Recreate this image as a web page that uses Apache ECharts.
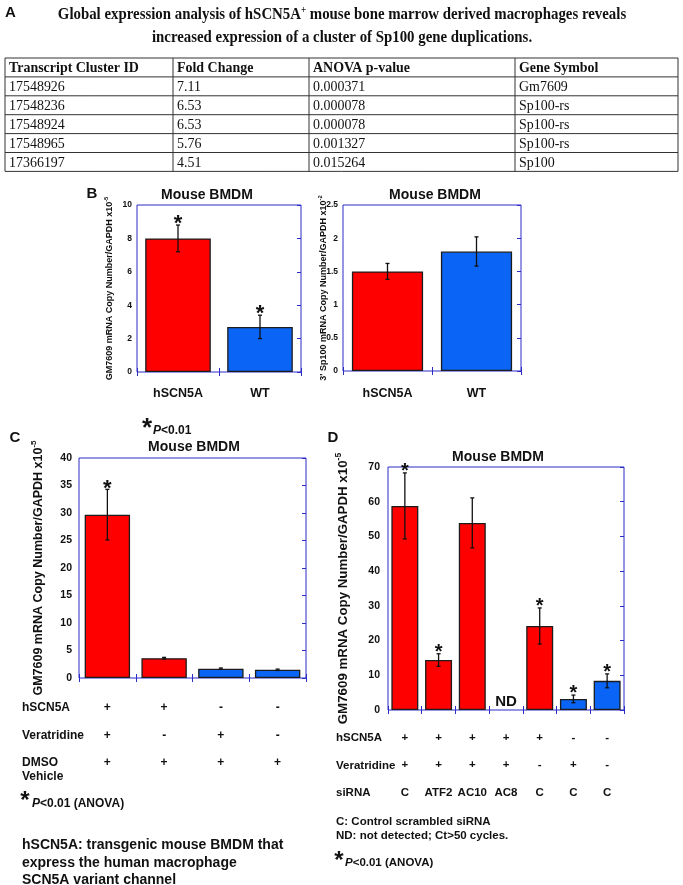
<!DOCTYPE html>
<html>
<head>
<meta charset="utf-8">
<script src="https://cdn.jsdelivr.net/npm/echarts@6/dist/echarts.min.js"></script>
<style>
html, body { margin: 0; padding: 0; background: #fff; }
#main { width: 683px; height: 885px; }
</style>
</head>
<body>
<div id="main"></div>
<script>
// ---- panel A table ----
var tableHeader = ['Transcript Cluster ID', 'Fold Change', 'ANOVA p-value', 'Gene Symbol'];
var clusterIds = ['17548926', '17548236', '17548924', '17548965', '17366197'];
var foldChanges = ['7.11', '6.53', '6.53', '5.76', '4.51'];
var pValues = ['0.000371', '0.000078', '0.000078', '0.001327', '0.015264'];
var geneSymbols = ['Gm7609', 'Sp100-rs', 'Sp100-rs', 'Sp100-rs', 'Sp100'];

// ---- panel B ----
var bCategories = ['hSCN5A', 'WT'];
var bGenotype = ['+', '-'];
var bGmValues = [8.0, 2.7];
var bGmErrors = [0.8, 0.7];
var bGmStars = [true, true];
var bSpValues = [1.5, 1.8];
var bSpErrors = [0.12, 0.22];
var bSpStars = [false, false];

// ---- panel C ----
var cHscn5a = ['+', '+', '-', '-'];
var cVeratridine = ['+', '-', '+', '-'];
var cDmso = ['+', '+', '+', '+'];
var cValues = [29.7, 3.6, 1.7, 1.5];
var cErrors = [4.6, 0.15, 0.12, 0.12];
var cStars = [true, false, false, false];

// ---- panel D ----
var dHscn5a = ['+', '+', '+', '+', '+', '-', '-'];
var dVeratridine = ['+', '+', '+', '+', '-', '+', '-'];
var dSirna = ['C', 'ATF2', 'AC10', 'AC8', 'C', 'C', 'C'];
var dValues = [58.8, 14.4, 53.9, 0, 24.2, 3.2, 8.4];
var dErrors = [9.5, 1.8, 7.2, 0, 5.2, 1.1, 2.0];
var dStars = [true, true, false, false, true, true, true];
var dNotes = ['', '', '', 'ND', '', '', ''];

var BOX = '#2b2bc6';
var RED = '#ff0000';
var BLUE = '#0a64f5';
var EDGE = '#1c1c1c';
var INK = '#111';
var SANS = '"Liberation Sans", Arial, sans-serif';
var SERIF = '"Liberation Serif", "Times New Roman", serif';

var chart = echarts.init(document.getElementById('main'));
var graphics = [];

function txt(x, y, text, size, opt) {
    opt = opt || {};
    graphics.push({
        type: 'text', x: x, y: y, silent: true, scaleX: opt.sx || 1,
        style: {
            text: text, fill: opt.fill || INK,
            fontFamily: opt.family || SANS, fontSize: size,
            fontWeight: opt.weight || 'bold', fontStyle: opt.italic ? 'italic' : 'normal',
            align: opt.align || 'left', verticalAlign: opt.valign || 'middle',
            rich: opt.rich
        }
    });
}
function line(x1, y1, x2, y2, color, w) {
    graphics.push({
        type: 'line', silent: true,
        shape: { x1: x1, y1: y1, x2: x2, y2: y2 },
        style: { stroke: color, lineWidth: w }
    });
}
function star(x, cy, size) {
    txt(x, cy + size * 0.28, '*', size, { align: 'center' });
}
function pNote(x, y, size, tail) {
    txt(x, y, '{i|P}' + tail, size, {
        rich: { i: { fontFamily: SANS, fontSize: size, fontWeight: 'bold', fontStyle: 'italic', fill: INK } }
    });
}

// panel A: title + table (the serif text in the figure is tall and narrow)
txt(5, 13, 'A', 15);
txt(342, 15, 'Global expression analysis of hSCN5A{sup|+} mouse bone marrow derived macrophages reveals', 16.5, {
    family: SERIF, align: 'center', sx: 0.9,
    rich: { sup: { fontFamily: SERIF, fontSize: 10, fontWeight: 'bold', fill: INK, verticalAlign: 'top', padding: [0, 0, 9, 0] } }
});
txt(342, 38, 'increased expression of a cluster of Sp100 gene duplications.', 16.5, { family: SERIF, align: 'center', sx: 0.9 });

var colX = [5, 173, 309, 515, 678];
var tableTop = 58, rowH = 18.9;
var columns = [clusterIds, foldChanges, pValues, geneSymbols];
for (var r = 0; r <= 6; r++) {
    line(colX[0], tableTop + r * rowH, colX[4], tableTop + r * rowH, '#333', 1);
}
colX.forEach(function (x) { line(x, tableTop, x, tableTop + 6 * rowH, '#333', 1); });
tableHeader.forEach(function (h, c) {
    txt(colX[c] + 4, tableTop + rowH / 2 + 1, h, 15.5, { family: SERIF, sx: 0.9 });
});
columns.forEach(function (col, c) {
    col.forEach(function (v, r) {
        txt(colX[c] + 4, tableTop + (r + 1.5) * rowH + 1, v, 15.5, { family: SERIF, weight: 'normal', sx: 0.9 });
    });
});

// panel letters, titles and notes
txt(92, 194, 'B', 15, { align: 'center' });
txt(207, 195, 'Mouse BMDM', 14, { align: 'center' });
txt(435, 195, 'Mouse BMDM', 14, { align: 'center' });

txt(15, 438, 'C', 15, { align: 'center' });
star(147, 422, 26);
pNote(153, 431, 12, '<0.01');
txt(194, 447, 'Mouse BMDM', 14, { align: 'center' });

txt(333, 438, 'D', 15, { align: 'center' });
txt(498, 457, 'Mouse BMDM', 14, { align: 'center' });

// row labels for the condition tables
txt(22, 708, 'hSCN5A', 12);
txt(22, 736, 'Veratridine', 12);
txt(22, 763, 'DMSO', 12);
txt(22, 777, 'Vehicle', 12);
star(25, 795, 24);
pNote(32, 804, 12, '<0.01 (ANOVA)');
txt(22, 845, 'hSCN5A: transgenic mouse BMDM that', 14);
txt(22, 863, 'express the human macrophage', 14);
txt(22, 880, 'SCN5A variant channel', 14);

txt(336, 738, 'hSCN5A', 11.5);
txt(336, 766, 'Veratridine', 11.5);
txt(336, 793, 'siRNA', 11.5);
txt(336, 822, 'C: Control scrambled siRNA', 11.5);
txt(336, 836, 'ND: not detected; Ct>50 cycles.', 11.5);
star(339, 855, 24);
pNote(345, 863, 11.5, '<0.01 (ANOVA)');

var panels = [
    {
        grid: { left: 137, top: 205, width: 164, height: 167 },
        cats: bCategories, geno: bGenotype, values: bGmValues, errors: bGmErrors, stars: bGmStars,
        max: 10, interval: 2, tickSize: 8.5, tickMargin: 5,
        yName: ['GM7609 mRNA Copy Number/GAPDH x10', '-5'], nameSize: 9, nameGap: 21,
        starSize: 22, labelSize: 12.5, labelMargin: 15, lineHeight: 14,
        labelFn: function (v) { return v; }
    },
    {
        grid: { left: 343, top: 205, width: 178, height: 166 },
        cats: bCategories, geno: bGenotype, values: bSpValues, errors: bSpErrors, stars: bSpStars,
        max: 2.5, interval: 0.5, tickSize: 8.5, tickMargin: 5,
        yName: ["3' Sp100 mRNA Copy Number/GAPDH x10", '-2'], nameSize: 9, nameGap: 13,
        starSize: 22, labelSize: 12.5, labelMargin: 16, lineHeight: 14,
        labelFn: function (v) { return v; }
    },
    {
        grid: { left: 79, top: 458, width: 227, height: 220 },
        cats: ['0', '1', '2', '3'], geno: cHscn5a, values: cValues, errors: cErrors, stars: cStars,
        max: 40, interval: 5, tickSize: 10.5, tickMargin: 7,
        yName: ['GM7609 mRNA Copy Number/GAPDH x10', '-5'], nameSize: 12.5, nameGap: 32,
        starSize: 22, labelSize: 12, labelMargin: 16, lineHeight: 27.5,
        labelFn: function (v, i) { return cHscn5a[i] + '\n' + cVeratridine[i] + '\n' + cDmso[i]; }
    },
    {
        grid: { left: 388, top: 467, width: 236, height: 243 },
        cats: ['0', '1', '2', '3', '4', '5', '6'], geno: dHscn5a, values: dValues, errors: dErrors, stars: dStars,
        notes: dNotes,
        max: 70, interval: 10, tickSize: 10.5, tickMargin: 8,
        yName: ['GM7609 mRNA Copy Number/GAPDH x10', '-5'], nameSize: 13.3, nameGap: 35,
        starSize: 20, labelSize: 11.5, labelMargin: 14, lineHeight: 27.5,
        labelFn: function (v, i) { return dHscn5a[i] + '\n' + dVeratridine[i] + '\n' + dSirna[i]; }
    }
];

var grids = [], xAxes = [], yAxes = [], series = [];
panels.forEach(function (p, k) {
    grids.push(Object.assign({ show: true, borderColor: BOX, borderWidth: 1, backgroundColor: 'transparent' }, p.grid));
    var tick = { show: true, inside: true, length: 4, lineStyle: { color: BOX, width: 1 } };
    xAxes.push({
        type: 'category', gridIndex: k, data: p.cats, position: 'bottom',
        axisLine: { show: false }, axisTick: tick,
        axisLabel: {
            interval: 0, formatter: p.labelFn, fontFamily: SANS, fontWeight: 'bold',
            fontSize: p.labelSize, lineHeight: p.lineHeight, color: INK, margin: p.labelMargin
        }
    });
    xAxes.push({
        type: 'category', gridIndex: k, data: p.cats, position: 'top',
        axisLine: { show: false }, axisTick: tick, axisLabel: { show: false }
    });
    yAxes.push({
        type: 'value', gridIndex: k, min: 0, max: p.max, interval: p.interval, position: 'left',
        axisLine: { show: false }, axisTick: { show: false }, splitLine: { show: false },
        axisLabel: { fontFamily: SANS, fontWeight: 'bold', fontSize: p.tickSize, color: INK, margin: p.tickMargin },
        name: '{t|' + p.yName[0] + '}{s|' + p.yName[1] + '}',
        nameLocation: 'middle', nameRotate: 90, nameGap: p.nameGap, nameMoveOverlap: false,
        nameTextStyle: {
            rich: {
                t: { fontFamily: SANS, fontWeight: 'bold', fontSize: p.nameSize, color: INK, lineHeight: p.nameSize * 1.4 },
                s: { fontFamily: SANS, fontWeight: 'bold', fontSize: p.nameSize * 0.65, color: INK, verticalAlign: 'top' }
            }
        }
    });
    yAxes.push({
        type: 'value', gridIndex: k, min: 0, max: p.max, interval: p.interval, position: 'right',
        axisLine: { show: false }, axisTick: tick, splitLine: { show: false }, axisLabel: { show: false }
    });
    series.push({
        type: 'bar', xAxisIndex: 2 * k, yAxisIndex: 2 * k, barCategoryGap: '20%', silent: true,
        data: p.values.map(function (v, i) {
            return {
                value: v,
                itemStyle: { color: p.geno[i] === '+' ? RED : BLUE, borderColor: EDGE, borderWidth: v > 0 ? 1.3 : 0 }
            };
        })
    });
    // error bars, significance stars and the "ND" note
    series.push({
        type: 'custom', xAxisIndex: 2 * k, yAxisIndex: 2 * k, silent: true, z: 5,
        data: p.values.map(function (v, i) { return [i, v, p.errors[i]]; }),
        renderItem: function (params, api) {
            var i = api.value(0), v = api.value(1), e = api.value(2);
            var top = api.coord([i, v + e]);
            var bot = api.coord([i, v - e]);
            var base = api.coord([i, 0]);
            var kids = [];
            var st = { stroke: INK, lineWidth: 1.3 };
            if (e > 0) {
                kids.push({ type: 'line', shape: { x1: top[0], y1: top[1], x2: bot[0], y2: bot[1] }, style: st });
                kids.push({ type: 'line', shape: { x1: top[0] - 2, y1: top[1], x2: top[0] + 2, y2: top[1] }, style: st });
                kids.push({ type: 'line', shape: { x1: bot[0] - 2, y1: bot[1], x2: bot[0] + 2, y2: bot[1] }, style: st });
            }
            if (p.stars[params.dataIndex]) {
                kids.push({
                    type: 'text', x: top[0], y: top[1] - 7 + p.starSize * 0.28,
                    style: { text: '*', fontFamily: SANS, fontWeight: 'bold', fontSize: p.starSize, fill: INK, align: 'center', verticalAlign: 'middle' }
                });
            }
            if (p.notes && p.notes[params.dataIndex]) {
                kids.push({
                    type: 'text', x: base[0], y: base[1] - 1,
                    style: { text: p.notes[params.dataIndex], fontFamily: SANS, fontWeight: 'bold', fontSize: 15, fill: INK, align: 'center', verticalAlign: 'bottom' }
                });
            }
            return { type: 'group', children: kids };
        }
    });
});

chart.setOption({
    animation: false,
    backgroundColor: '#fff',
    grid: grids,
    xAxis: xAxes,
    yAxis: yAxes,
    series: series,
    graphic: graphics
});
</script>
</body>
</html>
